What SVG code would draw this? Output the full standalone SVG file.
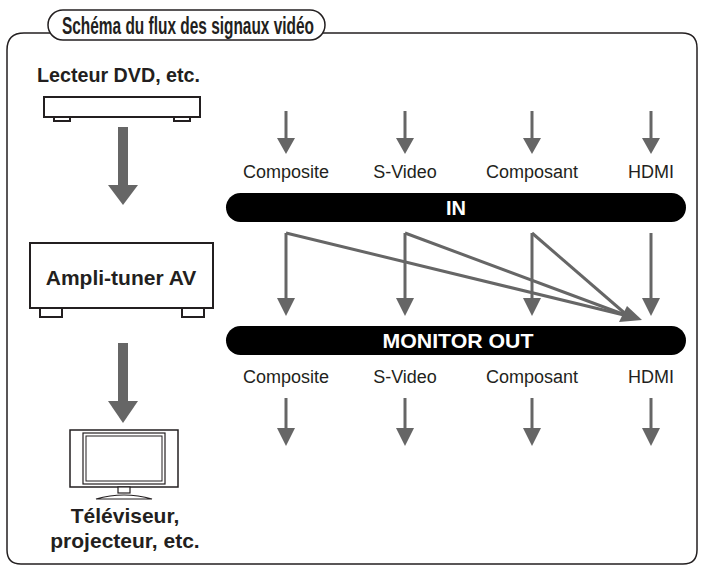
<svg xmlns="http://www.w3.org/2000/svg" width="704" height="571" viewBox="0 0 704 571">
<defs>
<style>
text{font-family:"Liberation Sans",Arial,sans-serif;fill:#231f20}
.b{font-weight:bold}
.lbl{font-size:18px;text-anchor:middle}
.ln{stroke:#666;stroke-width:3;fill:none}
.box{fill:#fff;stroke:#231f20;stroke-width:2}
</style>
</defs>
<rect x="0" y="0" width="704" height="571" fill="#fff"/>
<path d="M24,33 H682 Q697,33 697,48 V550 Q697,564 683,564 H21 Q7,564 7,550 V50 Q7,33 24,33 Z" fill="none" stroke="#231f20" stroke-width="1.5"/>
<g id="title"><rect x="48" y="10" width="277" height="30" rx="15" fill="#fff" stroke="#231f20" stroke-width="1.5"/>
<text x="62" y="34" class="b" font-size="23" textLength="252" lengthAdjust="spacingAndGlyphs">Schéma du flux des signaux vidéo</text></g>
<g id="dvd"><text x="37" y="82" class="b" font-size="21" textLength="163" lengthAdjust="spacingAndGlyphs">Lecteur DVD, etc.</text>
<rect x="44" y="97" width="156" height="20" class="box" stroke-width="1.5"/>
<rect x="54" y="117" width="16" height="4" class="box" stroke-width="1.5"/><rect x="174" y="117" width="16" height="4" class="box" stroke-width="1.5"/></g>
<g id="amp"><rect x="30" y="243" width="183" height="65" class="box"/>
<rect x="40" y="308" width="22" height="9" class="box"/><rect x="182" y="308" width="22" height="9" class="box"/>
<text x="121" y="285" class="b" font-size="21" text-anchor="middle">Ampli-tuner AV</text></g>
<g id="tv"><rect x="70" y="430" width="108" height="57" fill="#fff" stroke="#231f20" stroke-width="1.5"/>
<rect x="83" y="433" width="82" height="51" fill="none" stroke="#231f20" stroke-width="1.2"/>
<rect x="86" y="436" width="76" height="45" fill="none" stroke="#231f20" stroke-width="1"/>
<rect x="118" y="487" width="12" height="6" fill="#fff" stroke="#231f20" stroke-width="1.2"/>
<path d="M96,499 Q124,491 152,499 Z" fill="#fff" stroke="#231f20" stroke-width="1.2"/>
<text x="125" y="523" class="b" font-size="21" text-anchor="middle">Téléviseur,</text>
<text x="125" y="548" class="b" font-size="21" text-anchor="middle">projecteur, etc.</text></g>
<g id="in"><rect x="226" y="193" width="460" height="29" rx="14.5" fill="#000"/>
<text x="456" y="215" class="b" font-size="20" text-anchor="middle" style="fill:#fff">IN</text></g>
<g id="out"><rect x="226" y="326" width="460" height="29" rx="14.5" fill="#000"/>
<text x="458" y="348" class="b" font-size="20" text-anchor="middle" style="fill:#fff" textLength="151" lengthAdjust="spacingAndGlyphs">MONITOR OUT</text></g>
<g id="labels">
<text x="286" y="178" class="lbl">Composite</text><text x="405" y="178" class="lbl">S-Video</text><text x="532" y="178" class="lbl">Composant</text><text x="651" y="178" class="lbl">HDMI</text>
<text x="286" y="383" class="lbl">Composite</text><text x="405" y="383" class="lbl">S-Video</text><text x="532" y="383" class="lbl">Composant</text><text x="651" y="383" class="lbl">HDMI</text>
</g>
<g id="connectors" fill="#666">
<rect x="118" y="127" width="10" height="60"/><path d="M108,185 H138 L123,205 Z"/>
<rect x="118" y="343" width="10" height="60"/><path d="M108,401 H138 L123,423 Z"/>
<g class="ln">
<path d="M286,111 V140"/><path d="M405,111 V140"/><path d="M532,111 V140"/><path d="M651,111 V140"/>
<path d="M286,233 V300"/><path d="M405,233 V300"/><path d="M532,233 V300"/><path d="M651,233 V300"/>
<path d="M286,398 V430"/><path d="M405,398 V430"/><path d="M532,398 V430"/><path d="M651,398 V430"/>
<path d="M286,233 L628,316"/><path d="M405,233 L628,316"/><path d="M532,233 L628,316"/>
</g>
<path d="M277,138 H295 L286,154 Z"/><path d="M396,138 H414 L405,154 Z"/><path d="M523,138 H541 L532,154 Z"/><path d="M642,138 H660 L651,154 Z"/>
<path d="M277,298 H295 L286,316 Z"/><path d="M396,298 H414 L405,316 Z"/><path d="M523,298 H541 L532,316 Z"/><path d="M642,298 H660 L651,316 Z"/>
<path d="M277,428 H295 L286,446 Z"/><path d="M396,428 H414 L405,446 Z"/><path d="M523,428 H541 L532,446 Z"/><path d="M642,428 H660 L651,446 Z"/>
<path d="M642,320 L627,306 L619,322 Z"/>
</g>
</svg>
